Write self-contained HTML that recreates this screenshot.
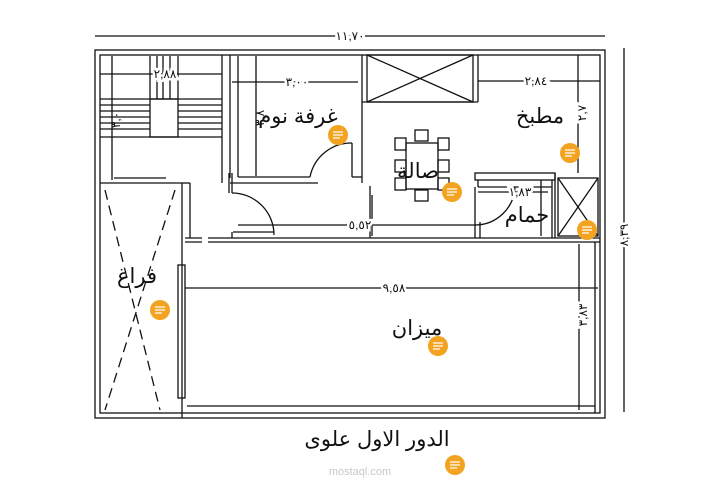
<!DOCTYPE html>
<html><head><meta charset="utf-8"><style>
html,body{margin:0;padding:0;background:#fff;width:720px;height:484px;overflow:hidden}
svg{display:block}
text{font-family:"Liberation Sans","Noto Sans CJK SC",sans-serif;fill:#111}
</style></head><body>
<svg width="720" height="484" viewBox="0 0 720 484" xmlns="http://www.w3.org/2000/svg">
<g stroke="#111" stroke-width="1.3" fill="none">
<line x1="95" y1="36" x2="605" y2="36"/>
<line x1="624" y1="48" x2="624" y2="412"/>
<rect x="95" y="50" width="510" height="368"/>
<rect x="100" y="55" width="500" height="358"/>
<line x1="222" y1="55" x2="222" y2="183"/>
<line x1="230" y1="55" x2="230" y2="178"/>
<line x1="100" y1="183" x2="182" y2="183"/>
<line x1="114" y1="178" x2="166" y2="178"/>
<line x1="112" y1="56" x2="112" y2="180"/>
<line x1="100" y1="74" x2="222" y2="74"/>
<line x1="150" y1="56" x2="150" y2="99"/><line x1="157" y1="56" x2="157" y2="99"/>
<line x1="163" y1="56" x2="163" y2="99"/><line x1="170" y1="56" x2="170" y2="99"/><line x1="178" y1="56" x2="178" y2="99"/>
<rect x="150" y="99" width="28" height="38"/>
<line x1="100" y1="99" x2="222" y2="99"/><line x1="100" y1="105" x2="150" y2="105"/><line x1="178" y1="105" x2="222" y2="105"/>
<line x1="100" y1="111" x2="150" y2="111"/><line x1="178" y1="111" x2="222" y2="111"/>
<line x1="100" y1="117" x2="150" y2="117"/><line x1="178" y1="117" x2="222" y2="117"/>
<line x1="100" y1="123" x2="150" y2="123"/><line x1="178" y1="123" x2="222" y2="123"/>
<line x1="100" y1="129" x2="150" y2="129"/><line x1="178" y1="129" x2="222" y2="129"/>
<line x1="100" y1="137" x2="222" y2="137"/>
<line x1="182" y1="183" x2="182" y2="418"/>
<line x1="182" y1="183" x2="190" y2="183"/>
<line x1="190" y1="183" x2="190" y2="238"/>
<line x1="105" y1="190" x2="160" y2="410" stroke-dasharray="10,6"/>
<line x1="175" y1="190" x2="105" y2="410" stroke-dasharray="10,6"/>
<rect x="178" y="265" width="7" height="133"/>
<line x1="238" y1="56" x2="238" y2="177"/>
<line x1="238" y1="177" x2="310" y2="177"/>
<line x1="230" y1="183" x2="318" y2="183"/>
<line x1="352" y1="143" x2="352" y2="177"/><line x1="352" y1="177" x2="362" y2="177"/>
<line x1="362" y1="55" x2="362" y2="183"/>
<path d="M310 177 A42 42 0 0 1 352 143"/>
<line x1="256" y1="56" x2="256" y2="176"/>
<line x1="232" y1="82" x2="358" y2="82"/>
<line x1="229" y1="173" x2="229" y2="193"/><line x1="232" y1="173" x2="232" y2="193"/>
<path d="M232 193 A42 42 0 0 1 274 235"/>
<line x1="233" y1="232" x2="274" y2="232"/>
<line x1="232" y1="232" x2="232" y2="238"/>
<line x1="185" y1="238" x2="202" y2="238"/><line x1="208" y1="238" x2="600" y2="238"/>
<line x1="185" y1="242" x2="202" y2="242"/><line x1="208" y1="242" x2="600" y2="242"/>
<line x1="238" y1="225" x2="475" y2="225"/>
<line x1="370" y1="186" x2="370" y2="238"/>
<rect x="367" y="55" width="106" height="47"/>
<line x1="362" y1="102" x2="478" y2="102"/>
<line x1="367" y1="55" x2="473" y2="102"/><line x1="473" y1="55" x2="367" y2="102"/>
<line x1="478" y1="55" x2="478" y2="102"/>
<line x1="478" y1="81" x2="600" y2="81"/>
<line x1="578" y1="55" x2="578" y2="173"/>
<rect x="406" y="143" width="32" height="46"/>
<rect x="395" y="138" width="11" height="12"/><rect x="438" y="138" width="11" height="12"/>
<rect x="395" y="160" width="11" height="12"/><rect x="438" y="160" width="11" height="12"/>
<rect x="395" y="178" width="11" height="12"/><rect x="438" y="178" width="11" height="12"/>
<rect x="415" y="130" width="13" height="11"/><rect x="415" y="190" width="13" height="11"/>
<rect x="475" y="173" width="80" height="7"/>
<line x1="478" y1="180" x2="478" y2="187"/><line x1="478" y1="187" x2="552" y2="187"/>
<line x1="552" y1="180" x2="552" y2="238"/>
<line x1="555" y1="173" x2="555" y2="238"/>
<rect x="558" y="178" width="40" height="58"/>
<line x1="558" y1="178" x2="598" y2="236"/><line x1="598" y1="178" x2="558" y2="236"/>
<line x1="475" y1="187" x2="475" y2="238"/><line x1="480" y1="222" x2="480" y2="238"/>
<path d="M475 225 A40 40 0 0 0 515 187"/>
<line x1="478" y1="192" x2="548" y2="192"/>
<line x1="541" y1="180" x2="541" y2="236"/>
<line x1="187" y1="406" x2="595" y2="406"/>
<line x1="595" y1="242" x2="595" y2="413"/>
<line x1="185" y1="288" x2="598" y2="288"/>
<line x1="579" y1="244" x2="579" y2="410"/>
<line x1="372" y1="195" x2="372" y2="236"/>
</g>
<g font-size="12" text-anchor="middle">
<text x="350" y="40" stroke="#fff" stroke-width="6" style="paint-order:stroke">١١,٧٠</text>
<text x="165" y="78" stroke="#fff" stroke-width="5" style="paint-order:stroke">٢,٨٨</text>
<text x="297" y="86" stroke="#fff" stroke-width="5" style="paint-order:stroke">٣,٠٠</text>
<text x="536" y="85" stroke="#fff" stroke-width="5" style="paint-order:stroke">٢,٨٤</text>
<text x="394" y="292" stroke="#fff" stroke-width="5" style="paint-order:stroke">٩,٥٨</text>
<text x="360" y="229" stroke="#fff" stroke-width="5" style="paint-order:stroke">٥,٥٢</text>
<text x="520" y="196" stroke="#fff" stroke-width="5" style="paint-order:stroke">١,٨٣</text>
<text transform="translate(628,235) rotate(-90)" stroke="#fff" stroke-width="5" style="paint-order:stroke">٨,٣٩</text>
<text transform="translate(587,315) rotate(-90)" stroke="#fff" stroke-width="5" style="paint-order:stroke">٣,٨٣</text>
<text transform="translate(586,113) rotate(-90)" stroke="#fff" stroke-width="5" style="paint-order:stroke">٢,٧</text>
<text transform="translate(264,118) rotate(-90)">٣,٨</text>
<text transform="translate(120,120) rotate(-90)">٣,٠</text>
</g>
<g font-size="21" text-anchor="middle">
<text x="298" y="123">غرفة نوم</text>
<text x="540" y="123">مطبخ</text>
<text x="418" y="178">صالة</text>
<text x="527" y="222">حمام</text>
<text x="137" y="283">فراغ</text>
<text x="417" y="335">ميزان</text>
<text x="377" y="446">الدور الاول علوى</text>
</g>
<text x="360" y="475" font-size="11" text-anchor="middle" fill="#ccc" style="fill:#c8c8c8">mostaql.com</text>
<g fill="#f3a31f">
<circle cx="338" cy="135" r="10"/><circle cx="570" cy="153" r="10"/>
<circle cx="452" cy="192" r="10"/><circle cx="587" cy="230" r="10"/>
<circle cx="160" cy="310" r="10"/><circle cx="438" cy="346" r="10"/>
<circle cx="455" cy="465" r="10"/>
</g>
<g stroke="#fff" stroke-width="1.3">
<path d="M333 132h10M333 135h10M333 138h7"/><path d="M565 150h10M565 153h10M565 156h7"/>
<path d="M447 189h10M447 192h10M447 195h7"/><path d="M582 227h10M582 230h10M582 233h7"/>
<path d="M155 307h10M155 310h10M155 313h7"/><path d="M433 343h10M433 346h10M433 349h7"/>
<path d="M450 462h10M450 465h10M450 468h7"/>
</g>
</svg>
</body></html>
